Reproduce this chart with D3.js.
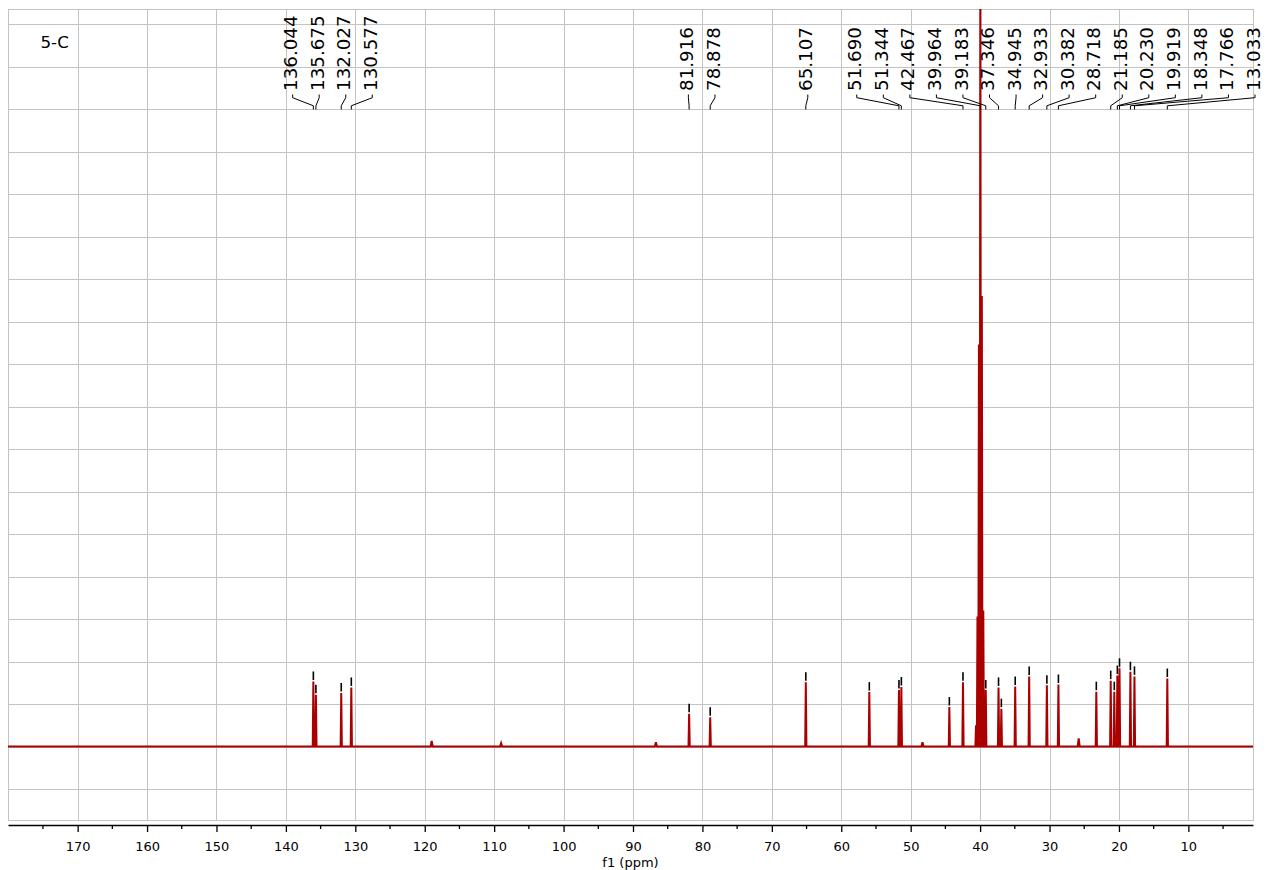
<!DOCTYPE html>
<html>
<head>
<meta charset="utf-8">
<script src="https://cdn.jsdelivr.net/npm/d3@7"></script>
<style>
  html, body { margin: 0; padding: 0; background: #ffffff; }
  svg { display: block; }
</style>
</head>
<body>
<script>
// ---------------- DATA ----------------
const title = "5-C";
const axisTitle = "f1 (ppm)";
const majorTicks = [170, 160, 150, 140, 130, 120, 110, 100, 90, 80, 70, 60, 50, 40, 30, 20, 10];
const minorTicks = [175, 165, 155, 145, 135, 125, 115, 105, 95, 85, 75, 65, 55, 45, 35, 25, 15, 5];
const gridLevels = [-1, 0, 1, 2, 3, 4, 5, 6, 7, 8, 9, 10, 11, 12, 13, 14, 15, 16, 17];

// spectral lines (ppm) and their intensities (grid units)
const peakPpm = [136.044, 135.675, 132.027, 130.577, 81.916, 78.878, 65.107, 55.96, 51.690, 51.344,
                 44.43, 42.467, 40.59, 40.38, 40.17, 39.964, 39.75, 39.54, 39.33, 39.183,
                 37.346, 36.94, 34.945, 32.933, 30.382, 28.718, 23.26, 21.185, 20.67, 20.230,
                 19.919, 18.348, 17.766, 13.033];
const peakIntensity = [1.53, 1.22, 1.26, 1.39, 0.77, 0.69, 1.51, 1.28, 1.33, 1.40,
                       0.93, 1.51, 0.5, 3.06, 9.46, 20.0, 10.6, 3.2, 1.0, 1.33,
                       1.39, 0.89, 1.41, 1.65, 1.44, 1.46, 1.29, 1.55, 1.29, 1.67,
                       1.84, 1.76, 1.65, 1.60];

// small baseline artefacts
const minorPpm = [119.0, 109.0, 86.7, 48.3, 25.8];
const minorIntensity = [0.13, 0.08, 0.10, 0.10, 0.19];

// picked peaks (black markers)
const pickedPpm = [136.044, 135.675, 132.027, 130.577, 81.916, 78.878, 65.107, 55.96, 51.690, 51.344,
                   44.43, 42.467, 39.964, 39.183, 37.346, 36.94, 34.945, 32.933, 30.382, 28.718,
                   23.26, 21.185, 20.67, 20.230, 19.919, 18.348, 17.766, 13.033];

// peak labels
const peakLabels = ["136.044", "135.675", "132.027", "130.577", "81.916", "78.878", "65.107",
                    "51.690", "51.344", "42.467", "39.964", "39.183", "37.346", "34.945", "32.933",
                    "30.382", "28.718", "21.185", "20.230", "19.919", "18.348", "17.766", "13.033"];

// ---------------- LAYOUT ----------------
(function () {
const W = 1276, H = 870;
const pL = 8, pR = 1253, pT = 9, pB = 820, axisY = 825;

const svg = d3.select("body").append("svg").attr("width", W).attr("height", H)
  .style("font-family", "'DejaVu Sans', Verdana, sans-serif");
svg.append("rect").attr("width", W).attr("height", H).attr("fill", "#fff");

const x = d3.scaleLinear().domain([180.03, 0.69]).range([pL, pR]);
const y = d3.scaleLinear().domain([-1.729, 17.353]).range([pB, pT]);

// grid
const grid = svg.append("g").attr("stroke", "#c3c3c3").attr("stroke-width", 1).attr("shape-rendering", "crispEdges");
grid.selectAll("line.v").data(majorTicks).join("line").attr("class", "v")
  .attr("x1", d => Math.round(x(d)) + 0.5).attr("x2", d => Math.round(x(d)) + 0.5)
  .attr("y1", pT).attr("y2", pB);
grid.selectAll("line.h").data(gridLevels).join("line").attr("class", "h")
  .attr("x1", pL).attr("x2", pR)
  .attr("y1", d => Math.round(y(d)) + 0.5).attr("y2", d => Math.round(y(d)) + 0.5);
grid.append("rect").attr("x", pL + 0.5).attr("y", pT + 0.5)
  .attr("width", pR - pL).attr("height", pB - pT).attr("fill", "none");

// clip
svg.append("clipPath").attr("id", "plotClip").append("rect")
  .attr("x", pL).attr("y", pT).attr("width", pR - pL).attr("height", pB - pT);

// spectrum
const lines = peakPpm.map((p, i) => ({ p, v: peakIntensity[i], w: 0.09 }))
  .concat(minorPpm.map((p, i) => ({ p, v: minorIntensity[i], w: 0.15 })))
  .sort((a, b) => b.p - a.p);
const pts = [[x.domain()[0], 0]];
lines.forEach(l => { pts.push([l.p + l.w, 0]); pts.push([l.p, l.v]); pts.push([l.p - l.w, 0]); });
pts.push([x.domain()[1], 0]);
const lineGen = d3.line().x(d => x(d[0])).y(d => y(d[1]));
svg.append("g").attr("clip-path", "url(#plotClip)")
  .append("path").attr("d", lineGen(pts))
  .attr("fill", "none").attr("stroke", "#aa0000").attr("stroke-width", 2).attr("stroke-linejoin", "miter");

// picked-peak markers
const heightOf = p => peakIntensity[peakPpm.indexOf(p)];
svg.append("g").attr("clip-path", "url(#plotClip)").selectAll("line").data(pickedPpm).join("line")
  .attr("x1", d => x(d)).attr("x2", d => x(d))
  .attr("y1", d => y(heightOf(d)) - 1.5).attr("y2", d => y(heightOf(d)) - 10)
  .attr("stroke", "#000").attr("stroke-width", 1.6);

// label layout: clusters of evenly spaced slots centred on their peaks
const slot = 26.55;
const ideals = peakLabels.map(t => x(+t));
let clusters = ideals.map((v, i) => ({ idx: [i], sum: v, n: 1 }));
const startOf = c => c.sum / c.n - (c.n - 1) * slot / 2;
let changed = true;
while (changed) {
  changed = false;
  for (let i = 0; i < clusters.length - 1; i++) {
    const a = clusters[i], b = clusters[i + 1];
    if (startOf(b) - (startOf(a) + (a.n - 1) * slot) < slot) {
      clusters.splice(i, 2, { idx: a.idx.concat(b.idx), sum: a.sum + b.sum, n: a.n + b.n });
      changed = true; break;
    }
  }
}
const slotX = [];
clusters.forEach(c => {
  let s = startOf(c);
  const end = s + (c.n - 1) * slot;
  if (pR - end < slot) s += pR - end;   // align last cluster with the frame
  c.idx.forEach((id, k) => { slotX[id] = s + k * slot; });
});

const lab = svg.append("g");
lab.selectAll("text").data(peakLabels).join("text")
  .attr("transform", (d, i) => `translate(${slotX[i] + 6.6},91) rotate(-90)`)
  .attr("font-size", 18.3).attr("fill", "#000").text(d => d);
lab.selectAll("path").data(peakLabels).join("path")
  .attr("d", (d, i) => `M${slotX[i] + 2},94.5V97.7L${x(+d)},105.8V109.5`)
  .attr("fill", "none").attr("stroke", "#000").attr("stroke-width", 1);

// title
svg.append("text").attr("x", 40.5).attr("y", 48.3).attr("font-size", 16.7).text(title);

// x axis
const axisG = svg.append("g").attr("transform", `translate(0,${axisY})`);
axisG.call(d3.axisBottom(x).tickValues(majorTicks).tickSize(7).tickSizeOuter(0).tickPadding(9.5)
  .tickFormat(d3.format("d")));
axisG.select(".domain").attr("stroke", "#000").attr("stroke-width", 1.6);
axisG.selectAll(".tick line").attr("stroke", "#000").attr("stroke-width", 1.3);
axisG.selectAll(".tick text").attr("font-size", 13).attr("fill", "#000")
  .attr("font-family", "'DejaVu Sans', Verdana, sans-serif");
axisG.selectAll("line.minor").data(minorTicks).join("line").attr("class", "minor")
  .attr("x1", d => x(d)).attr("x2", d => x(d)).attr("y1", 0).attr("y2", 4)
  .attr("stroke", "#000").attr("stroke-width", 1.3);

svg.append("text").attr("x", (pL + pR) / 2).attr("y", 866.5).attr("text-anchor", "middle")
  .attr("font-size", 13).text(axisTitle);
})();
</script>
</body>
</html>
